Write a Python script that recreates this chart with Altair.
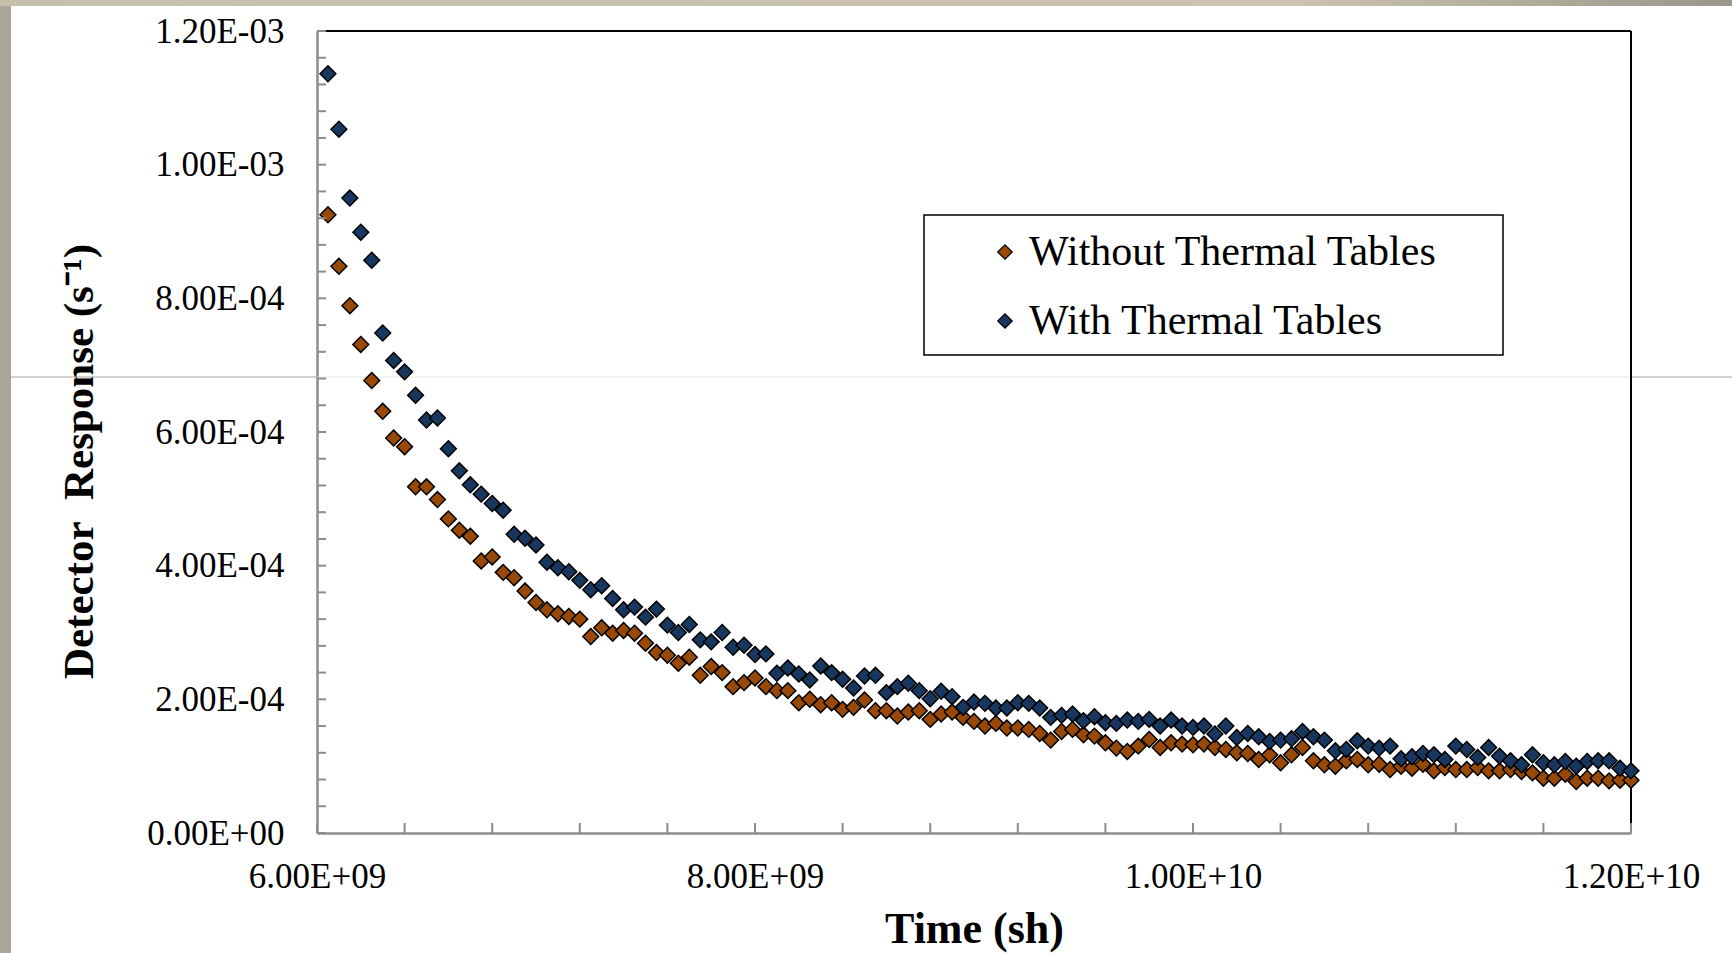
import altair as alt
import pandas as pd

# Simulation times (units of 1e9 shakes)
TIME_E9 = [
    6.05, 6.10, 6.15, 6.20, 6.25, 6.30, 6.35, 6.40, 6.45, 6.50,
    6.55, 6.60, 6.65, 6.70, 6.75, 6.80, 6.85, 6.90, 6.95, 7.00,
    7.05, 7.10, 7.15, 7.20, 7.25, 7.30, 7.35, 7.40, 7.45, 7.50,
    7.55, 7.60, 7.65, 7.70, 7.75, 7.80, 7.85, 7.90, 7.95, 8.00,
    8.05, 8.10, 8.15, 8.20, 8.25, 8.30, 8.35, 8.40, 8.45, 8.50,
    8.55, 8.60, 8.65, 8.70, 8.75, 8.80, 8.85, 8.90, 8.95, 9.00,
    9.05, 9.10, 9.15, 9.20, 9.25, 9.30, 9.35, 9.40, 9.45, 9.50,
    9.55, 9.60, 9.65, 9.70, 9.75, 9.80, 9.85, 9.90, 9.95, 10.00,
    10.05, 10.10, 10.15, 10.20, 10.25, 10.30, 10.35, 10.40, 10.45, 10.50,
    10.55, 10.60, 10.65, 10.70, 10.75, 10.80, 10.85, 10.90, 10.95, 11.00,
    11.05, 11.10, 11.15, 11.20, 11.25, 11.30, 11.35, 11.40, 11.45, 11.50,
    11.55, 11.60, 11.65, 11.70, 11.75, 11.80, 11.85, 11.90, 11.95, 12.00,
]

# Detector response (units of 1e-4 per second)
WITHOUT_E4 = [
    9.25, 8.48, 7.89, 7.31, 6.77, 6.31, 5.91, 5.78, 5.18, 5.18,
    4.99, 4.70, 4.53, 4.44, 4.07, 4.13, 3.90, 3.82, 3.62, 3.45,
    3.34, 3.28, 3.24, 3.20, 2.94, 3.07, 2.99, 3.03, 2.99, 2.84,
    2.70, 2.66, 2.54, 2.63, 2.36, 2.49, 2.40, 2.19, 2.25, 2.32,
    2.19, 2.13, 2.13, 1.95, 2.00, 1.92, 1.95, 1.85, 1.88, 1.99,
    1.83, 1.83, 1.75, 1.81, 1.83, 1.70, 1.78, 1.81, 1.73, 1.67,
    1.60, 1.64, 1.57, 1.57, 1.55, 1.49, 1.39, 1.52, 1.55, 1.47,
    1.45, 1.35, 1.27, 1.22, 1.30, 1.40, 1.28, 1.35, 1.33, 1.32,
    1.33, 1.28, 1.25, 1.20, 1.19, 1.10, 1.17, 1.05, 1.17, 1.28,
    1.08, 1.02, 1.00, 1.08, 1.10, 1.02, 1.03, 0.95, 1.00, 0.97,
    1.03, 0.93, 0.98, 0.95, 0.95, 0.98, 0.93, 0.93, 0.95, 0.92,
    0.90, 0.82, 0.82, 0.88, 0.77, 0.82, 0.82, 0.78, 0.79, 0.79,
]
WITH_E4 = [
    11.36, 10.53, 9.50, 8.99, 8.57, 7.48, 7.07, 6.90, 6.55, 6.18,
    6.21, 5.75, 5.42, 5.21, 5.07, 4.93, 4.83, 4.47, 4.41, 4.31,
    4.05, 3.97, 3.91, 3.78, 3.64, 3.70, 3.51, 3.34, 3.38, 3.23,
    3.35, 3.11, 3.00, 3.12, 2.89, 2.86, 3.00, 2.78, 2.81, 2.67,
    2.68, 2.39, 2.47, 2.38, 2.29, 2.50, 2.40, 2.30, 2.17, 2.35,
    2.36, 2.10, 2.19, 2.24, 2.13, 2.01, 2.12, 2.04, 1.88, 1.96,
    1.94, 1.87, 1.87, 1.95, 1.94, 1.87, 1.73, 1.76, 1.78, 1.68,
    1.74, 1.65, 1.64, 1.69, 1.67, 1.70, 1.60, 1.69, 1.60, 1.58,
    1.60, 1.48, 1.60, 1.43, 1.49, 1.44, 1.37, 1.39, 1.41, 1.52,
    1.44, 1.39, 1.23, 1.25, 1.38, 1.30, 1.27, 1.30, 1.11, 1.14,
    1.19, 1.17, 1.10, 1.30, 1.25, 1.13, 1.28, 1.15, 1.08, 1.02,
    1.17, 1.05, 1.02, 1.07, 1.00, 1.07, 1.08, 1.08, 0.97, 0.93,
]

SERIES = ["Without Thermal Tables", "With Thermal Tables"]
COLORS = ["#984807", "#17375E"]

X_LABEL_TICKS = [6.0e9, 8.0e9, 1.0e10, 1.2e10]
Y_LABEL_TICKS = [0.0, 2.0e-4, 4.0e-4, 6.0e-4, 8.0e-4, 1.0e-3, 1.2e-3]
X_MINOR_TICKS = [6.0e9 + k * 4.0e8 for k in range(16)]
Y_MINOR_TICKS = [k * 4.0e-5 for k in range(31)]

W, H = 1314, 802
PAD = {"left": 317, "top": 31, "right": 101, "bottom": 120}
FONT = "Liberation Serif"
AXIS_GRAY = "#8c8c8c"

rows = []
for name, vals in ((SERIES[0], WITHOUT_E4), (SERIES[1], WITH_E4)):
    for t, v in zip(TIME_E9, vals):
        rows.append({"time": t * 1e9, "resp": v * 1e-4, "series": name})
df = pd.DataFrame(rows)

# Scientific labels in the form 1.20E-03
SCI = "split(format(datum.value,'.2e'),'e')"
LABEL_EXPR = (
    f"{SCI}[0] + 'E' + substring({SCI}[1],0,1) + "
    f"(length({SCI}[1]) < 3 ? '0' : '') + substring({SCI}[1],1)"
)

x_scale = alt.Scale(domain=[6.0e9, 1.2e10], nice=False, zero=False)
y_scale = alt.Scale(domain=[0.0, 1.2e-3], nice=False, zero=False)

x_axis = alt.Axis(
    values=X_LABEL_TICKS, labelExpr=LABEL_EXPR, labelFont=FONT, labelFontSize=35,
    labelColor="black", labelPadding=54, labelBaseline="alphabetic",
    labelFlush=False, labelOverlap=False, ticks=False, tickSize=0, grid=False,
    domainColor=AXIS_GRAY, domainWidth=2.5,
    title="Time (sh)", titleFont=FONT, titleFontSize=44, titleFontWeight="bold",
    titleColor="black", titleX=657, titleY=109, titleAlign="center",
    titleBaseline="alphabetic",
)
y_axis = alt.Axis(
    values=Y_LABEL_TICKS, labelExpr=LABEL_EXPR, labelFont=FONT, labelFontSize=35,
    labelColor="black", labelPadding=33, labelFlush=False, labelOverlap=False,
    ticks=False, tickSize=0, grid=False,
    domainColor=AXIS_GRAY, domainWidth=2.5,
    title="Detector\u00a0 Response (s⁻¹)", titleFont=FONT, titleFontSize=43,
    titleFontWeight="bold", titleColor="black", titleAngle=270,
    titleX=-225, titleY=430, titleAlign="center", titleBaseline="alphabetic",
)

one = pd.DataFrame({"k": [0]})

# slide frame: side strip, top strip and the ruled line
left_band = alt.Chart(one).mark_rect(color="#a9a796").encode(
    x=alt.value(-317), x2=alt.value(-306), y=alt.value(-31), y2=alt.value(H + 120)
)
top_band = alt.Chart(one).mark_rect(
    color={
        "gradient": "linear", "x1": 0, "y1": 0, "x2": 1, "y2": 0,
        "stops": [
            {"offset": 0, "color": "#c6c0ab"},
            {"offset": 0.75, "color": "#cbc3ad"},
            {"offset": 1, "color": "#9a968a"},
        ],
    }
).encode(x=alt.value(-317), x2=alt.value(W + 101), y=alt.value(-31), y2=alt.value(-25))
line_left = alt.Chart(one).mark_rule(color="#a9a89f", strokeWidth=1).encode(
    x=alt.value(-306), x2=alt.value(0), y=alt.value(346)
)
line_right = alt.Chart(one).mark_rule(color="#a9a89f", strokeWidth=1).encode(
    x=alt.value(W), x2=alt.value(W + 101), y=alt.value(346)
)
line_inside = alt.Chart(one).mark_rule(color="#e8e5dc", strokeWidth=1).encode(
    x=alt.value(0), x2=alt.value(W), y=alt.value(346)
)

legend_box = alt.Chart(one).mark_rect(fill="white", stroke="black", strokeWidth=1.5).encode(
    x=alt.value(607), x2=alt.value(1186), y=alt.value(184), y2=alt.value(324)
)

top_border = alt.Chart(one).mark_rule(color="black", strokeWidth=2).encode(
    x=alt.value(0), x2=alt.value(W), y=alt.value(0)
)
right_border = alt.Chart(one).mark_rule(color="black", strokeWidth=2).encode(
    x=alt.value(W), y=alt.value(0), y2=alt.value(H)
)

points = alt.Chart(df).mark_point(
    shape="diamond", filled=True, size=250, stroke="black", strokeWidth=1.5, opacity=1
).encode(
    x=alt.X("time:Q", scale=x_scale, axis=x_axis),
    y=alt.Y("resp:Q", scale=y_scale, axis=y_axis),
    fill=alt.Fill(
        "series:N",
        scale=alt.Scale(domain=SERIES, range=COLORS),
        sort=SERIES,
        legend=alt.Legend(
            title=None, orient="none", legendX=667, legendY=200, direction="vertical",
            labelFont=FONT, labelFontSize=42, labelColor="black", labelLimit=700,
            labelOffset=3, rowPadding=27, padding=0,
            symbolType="diamond", symbolSize=210, symbolStrokeColor="black",
            symbolStrokeWidth=1.2, symbolOpacity=1,
        ),
    ),
)

# inner tick marks, drawn on the same scales (and same axes) as the data
x_ticks = alt.Chart(pd.DataFrame({"time": X_MINOR_TICKS})).mark_rule(
    color=AXIS_GRAY, strokeWidth=2
).encode(x=alt.X("time:Q", scale=x_scale, axis=x_axis), y=alt.value(H), y2=alt.value(H - 10))

y_ticks = alt.Chart(pd.DataFrame({"resp": Y_MINOR_TICKS})).mark_rule(
    color=AXIS_GRAY, strokeWidth=2
).encode(y=alt.Y("resp:Q", scale=y_scale, axis=y_axis), x=alt.value(0), x2=alt.value(9))

chart = alt.layer(
    left_band, top_band, line_left, line_right, line_inside, legend_box,
    top_border, right_border, points, x_ticks, y_ticks,
).properties(
    width=W, height=H, padding=PAD,
    autosize=alt.AutoSizeParams(type="none"),
    background="white",
).configure_view(stroke=None)

chart.save("out.html", embed_options={"renderer": "svg", "actions": False})
